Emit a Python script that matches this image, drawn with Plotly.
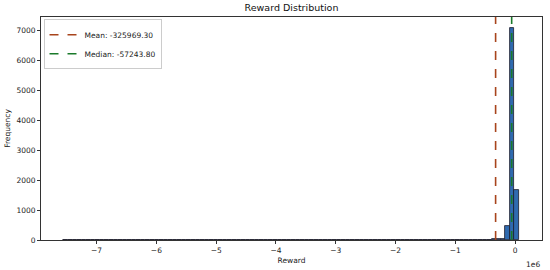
import plotly.graph_objects as go

# histogram of rewards, 100 bins (counts)
bin_start = -7.555e6
bin_width = 0.0762e6
counts = [
    3, 5, 4, 6, 7, 5, 8, 6, 4, 7,
    9, 6, 8, 7, 5, 9, 10, 7, 8, 6,
    9, 8, 11, 7, 9, 10, 8, 12, 9, 7,
    10, 8, 9, 11, 7, 10, 9, 8, 12, 10,
    9, 11, 8, 10, 7, 9, 12, 10, 8, 11,
    9, 7, 10, 8, 11, 9, 10, 8, 12, 9,
    8, 10, 11, 9, 7, 10, 8, 9, 11, 10,
    8, 9, 7, 10, 9, 8, 11, 9, 10, 8,
    9, 10, 8, 11, 9, 10, 12, 9, 11, 10,
    12, 14, 13, 16, 18, 22, 45, 485, 7105, 1672,
]
mean_val = -325969.30
median_val = -57243.80

x_ticks = [-7e6, -6e6, -5e6, -4e6, -3e6, -2e6, -1e6, 0]
x_labels = ["\u22127", "\u22126", "\u22125", "\u22124", "\u22123", "\u22122", "\u22121", "0"]
y_ticks = [0, 1000, 2000, 3000, 4000, 5000, 6000, 7000]

centers = [bin_start + (i + 0.5) * bin_width for i in range(len(counts))]

mean_col = "#a8441c"
median_col = "#1a7a2a"
font = "DejaVu Sans"

fig = go.Figure()
fig.add_trace(go.Bar(
    x=centers, y=counts, width=bin_width,
    marker=dict(color="#2f6aaf", line=dict(color="#1a1a2a", width=0.8)),
    showlegend=False,
))
# legend entries for the two lines
fig.add_trace(go.Scatter(x=[None], y=[None], mode="lines",
                         line=dict(color=mean_col, dash="dash", width=1.6),
                         name="Mean: %.2f" % mean_val))
fig.add_trace(go.Scatter(x=[None], y=[None], mode="lines",
                         line=dict(color=median_col, dash="dash", width=1.6),
                         name="Median: %.2f" % median_val))

for v, c in [(mean_val, mean_col), (median_val, median_col)]:
    fig.add_shape(type="line", x0=v, x1=v, y0=0, y1=1, xref="x", yref="y domain",
                  line=dict(color=c, dash="dash", width=1.6))

fig.update_layout(
    width=550, height=270,
    margin=dict(l=39, r=7, t=17, b=27),
    plot_bgcolor="white", paper_bgcolor="white",
    font=dict(family=font, size=7.5, color="#222"),
    title=dict(text="Reward Distribution", x=0.53, xanchor="center", y=0.985, yanchor="top",
               font=dict(size=9.5, color="#111")),
    bargap=0,
    legend=dict(x=0.005, y=0.99, xanchor="left", yanchor="top",
                bordercolor="#cccccc", borderwidth=1, bgcolor="rgba(255,255,255,0.8)",
                font=dict(size=7.5), tracegroupgap=0, itemwidth=30),
    annotations=[dict(text="1e6", x=1, y=-0.08, xref="paper", yref="paper",
                      xanchor="right", yanchor="top", showarrow=False, font=dict(size=7.5))],
)
fig.update_xaxes(range=[-7.93e6, 0.45e6], tickvals=x_ticks, ticktext=x_labels,
                 showgrid=False, zeroline=False, showline=True, mirror=True,
                 linecolor="#333", linewidth=0.8, ticks="outside", ticklen=3,
                 tickcolor="#333", title=dict(text="Reward", standoff=3, font=dict(size=7.5)))
fig.update_yaxes(range=[0, 7460], tickvals=y_ticks,
                 showgrid=False, zeroline=False, showline=True, mirror=True,
                 linecolor="#333", linewidth=0.8, ticks="outside", ticklen=3,
                 tickcolor="#333", title=dict(text="Frequency", standoff=4, font=dict(size=7.5)))

fig.write_html("out.html", config={"displayModeBar": False},
               post_script="document.body.style.margin='0';")
